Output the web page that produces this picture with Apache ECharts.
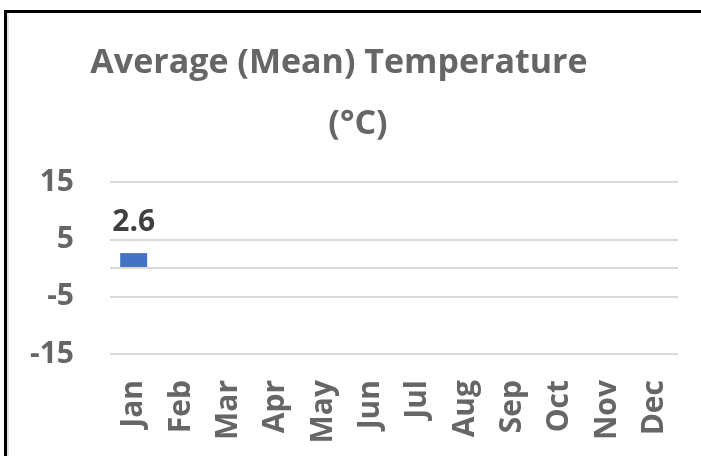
<!DOCTYPE html>
<html>
<head>
<meta charset="utf-8">
<script src="https://cdn.jsdelivr.net/npm/echarts@6/dist/echarts.min.js"></script>
<style>html,body{margin:0;padding:0;background:#fff;}#c{width:701px;height:456px;}</style>
</head>
<body>
<div id="c"></div>
<script>
var titleLine1 = 'Average (Mean) Temperature';
var titleLine2 = '(°C)';
var months = ['Jan','Feb','Mar','Apr','May','Jun','Jul','Aug','Sep','Oct','Nov','Dec'];
var temps = [2.6, null, null, null, null, null, null, null, null, null, null, null];
var yMin = -15, yMax = 15, yStep = 10;

var FONT = '"Open Sans"';
var titleStyle = {fontFamily: FONT, fontWeight: 'bold', fontSize: 34, color: '#666666', lineHeight: 40};
var chart = echarts.init(document.getElementById('c'));
chart.setOption({
  animation: false,
  title: [
    {text: titleLine1, left: 339, textAlign: 'center', top: 43, padding: 0, textStyle: titleStyle},
    {text: titleLine2, left: 358, textAlign: 'center', top: 104, padding: 0, textStyle: titleStyle}
  ],
  grid: {left: 110, right: 23, top: 182, bottom: 102},
  xAxis: {
    type: 'category',
    data: months,
    axisLine: {show: false},
    axisTick: {show: false},
    axisLabel: {rotate: 90, color: '#666666', fontFamily: FONT, fontWeight: 'bold', fontSize: 30, margin: 26, interval: 0}
  },
  yAxis: {
    type: 'value',
    min: yMin, max: yMax, interval: yStep,
    axisLine: {show: false},
    axisTick: {show: false},
    splitLine: {lineStyle: {color: '#d9d9d9', width: 2}},
    axisLabel: {color: '#666666', fontFamily: FONT, fontWeight: 'bold', fontSize: 30, margin: 36}
  },
  series: [{
    type: 'bar',
    data: temps,
    barWidth: '57%',
    itemStyle: {color: '#4472C4'},
    label: {show: true, position: 'top', distance: 16, color: '#404040', fontFamily: FONT, fontWeight: 'bold', fontSize: 30},
    markLine: {
      silent: true, symbol: 'none', label: {show: false},
      lineStyle: {color: '#d9d9d9', width: 2, type: 'solid'},
      data: [{yAxis: 0}]
    }
  }],
  graphic: [
    {type: 'line', shape: {x1: 4, y1: 11.5, x2: 701, y2: 11.5}, style: {stroke: '#000', lineWidth: 3}},
    {type: 'line', shape: {x1: 5.5, y1: 10, x2: 5.5, y2: 456}, style: {stroke: '#000', lineWidth: 3}},
    {type: 'line', shape: {x1: 8, y1: 13, x2: 8, y2: 456}, style: {stroke: '#cccccc', lineWidth: 1}}
  ]
});
</script>
</body>
</html>
